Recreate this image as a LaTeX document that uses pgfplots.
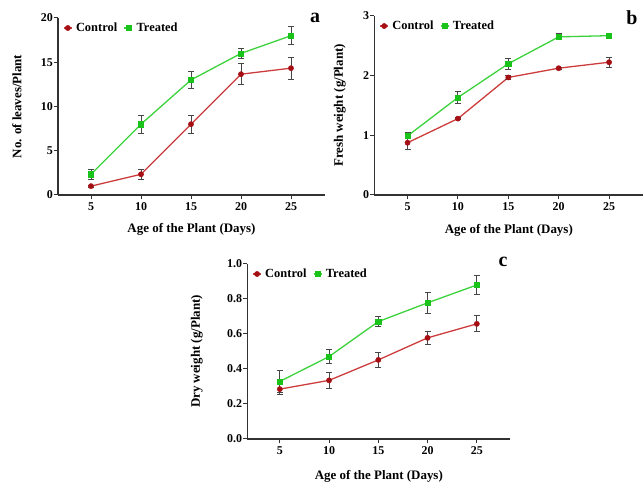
\documentclass[border=0pt]{standalone}
\usepackage{pgfplots}
\pgfplotsset{compat=1.18}
\usepackage{fontspec}
\setmainfont{Liberation Serif}

\definecolor{ctrlm}{RGB}{165,15,20}
\definecolor{ctrll}{RGB}{205,60,60}
\definecolor{trtm}{RGB}{25,195,25}
\definecolor{trtl}{RGB}{60,210,60}
\definecolor{axc}{RGB}{50,50,50}
\definecolor{errc}{RGB}{70,70,70}

\newcommand{\lblfont}{\fontsize{13}{15}\selectfont\bfseries}
\pgfplotsset{
  panel/.style={
    scale only axis,
    axis x line*=bottom, axis y line*=left,
    axis line style={axc, line width=1.3pt},
    xmin=1.7, xmax=28.4,
    xtick={5,10,15,20,25},
    tick style={axc, line width=1pt},
    tick align=outside, major tick length=4.5bp,
    ticklabel style={font=\fontsize{12}{13}\selectfont\bfseries},
    yticklabel style={inner xsep=0.5bp},
    /pgf/number format/assume math mode=true,
    xlabel={Age of the Plant (Days)},
    legend style={draw=none, fill=none, at={(rel axis cs:0.015,0.99)}, anchor=north west,
      font=\fontsize{12.5}{14}\selectfont\bfseries, legend columns=2,
      /tikz/every even column/.append style={column sep=3bp},
      nodes={inner xsep=3.5bp}, inner sep=1bp},
    legend image code/.code={\draw[mark repeat=2,mark phase=2,##1] plot coordinates {(0bp,0bp)(4bp,0bp)(8bp,0bp)};},
    clip=false,
    error bars/y dir=both, error bars/y explicit,
    error bars/error bar style={errc, line width=0.9pt},
    error bars/error mark options={errc, line width=0.9pt, mark size=3bp, rotate=90},
  },
  ctrl/.style={ctrll, line width=1.3pt, mark=*, mark size=2.6bp, mark options={ctrlm, fill=ctrlm, line width=0.5pt}},
  trt/.style={trtl, line width=1.3pt, mark=square*, mark size=2.6bp, mark options={trtm, fill=trtm, line width=0.5pt}},
}

\begin{document}
\begin{tikzpicture}[x=1bp,y=1bp]
\path[use as bounding box] (0,0) rectangle (644,483);

% Panel a
\begin{axis}[panel, at={(58bp,288bp)}, anchor=south west, width=267bp, height=177bp,
  ymin=0, ymax=20, ytick={0,5,10,15,20},
  ylabel={No. of leaves/Plant},
  every axis y label/.style={at={(rel axis cs:-0.154,0.5)}, rotate=90, anchor=center, font=\lblfont},
  every axis x label/.style={at={(rel axis cs:0.5,-0.192)}, anchor=center, font=\lblfont}]
\addplot[ctrl] table[x=x, y=y, y error=e] {
x y e
5 1.0 0.1
10 2.34 0.6
15 8.0 1.0
20 13.65 1.2
25 14.33 1.25
};
\addlegendentry{Control}
\addplot[trt] table[x=x, y=y, y error=e] {
x y e
5 2.34 0.6
10 8.0 1.0
15 13.0 1.0
20 16.0 0.55
25 18.0 1.0
};
\addlegendentry{Treated}
\node[font=\fontsize{20}{20}\selectfont\bfseries] at (rel axis cs:0.963,1.0) {a};
\end{axis}

% Panel b
\begin{axis}[panel, at={(374.3bp,288bp)}, anchor=south west, width=269bp, height=179bp,
  ymin=0, ymax=3, ytick={0,1,2,3},
  ylabel={Fresh weight (g/Plant)},
  every axis y label/.style={at={(rel axis cs:-0.128,0.5)}, rotate=90, anchor=center, font=\lblfont},
  every axis x label/.style={at={(rel axis cs:0.5,-0.196)}, anchor=center, font=\lblfont}]
\addplot[ctrl] table[x=x, y=y, y error=e] {
x y e
5 0.876 0.12
10 1.28 0.02
15 1.97 0.03
20 2.125 0.02
25 2.225 0.08
};
\addlegendentry{Control}
\addplot[trt] table[x=x, y=y, y error=e] {
x y e
5 0.99 0.05
10 1.634 0.1
15 2.2 0.09
20 2.65 0.05
25 2.67 0.02
};
\addlegendentry{Treated}
\node[font=\fontsize{20}{20}\selectfont\bfseries] at (rel axis cs:0.958,0.99) {b};
\end{axis}

% Panel c
\begin{axis}[panel, at={(247.3bp,44bp)}, anchor=south west, width=263bp, height=175bp,
  ymin=0, ymax=1, ytick={0,0.2,0.4,0.6,0.8,1.0},
  yticklabel style={/pgf/number format/.cd, fixed, fixed zerofill, precision=1},
  ylabel={Dry weight (g/Plant)},
  every axis y label/.style={at={(rel axis cs:-0.192,0.5)}, rotate=90, anchor=center, font=\lblfont},
  every axis x label/.style={at={(rel axis cs:0.5,-0.214)}, anchor=center, font=\lblfont}]
\addplot[ctrl] table[x=x, y=y, y error=e] {
x y e
5 0.285 0.03
10 0.335 0.046
15 0.452 0.045
20 0.578 0.037
25 0.658 0.046
};
\addlegendentry{Control}
\addplot[trt] table[x=x, y=y, y error=e] {
x y e
5 0.329 0.064
10 0.471 0.042
15 0.671 0.027
20 0.778 0.059
25 0.88 0.052
};
\addlegendentry{Treated}
\node[font=\fontsize{20}{20}\selectfont\bfseries] at (rel axis cs:0.972,1.01) {c};
\end{axis}
\end{tikzpicture}
\end{document}
